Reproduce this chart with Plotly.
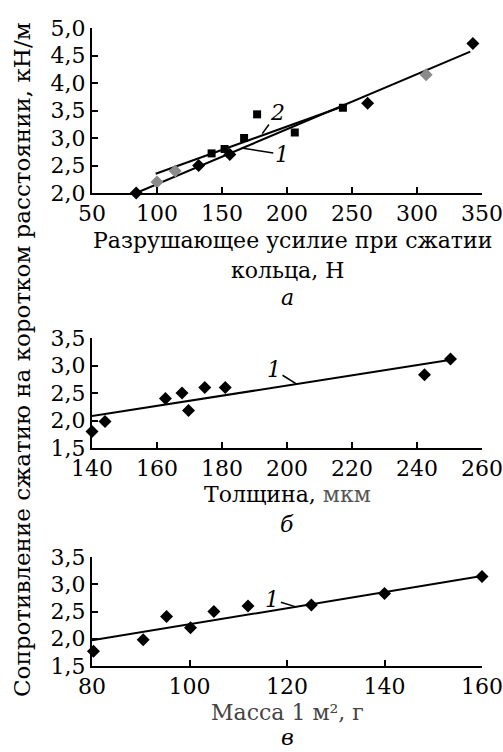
import plotly.graph_objects as go

# Panel a: breaking force of ring compression, N
a_diam_x = [84, 132, 156, 262, 343]
a_diam_y = [2.0, 2.5, 2.7, 3.63, 4.72]
a_gray_x = [100, 114, 307]
a_gray_y = [2.2, 2.4, 4.15]
a_sq_x = [142, 152, 167, 177, 206, 243]
a_sq_y = [2.72, 2.8, 3.0, 3.43, 3.1, 3.55]
a_line1_x = [84, 341]
a_line1_y = [2.0, 4.57]
a_line2_x = [99, 246]
a_line2_y = [2.35, 3.6]

# Panel б: thickness, µm
b_x = [140, 144, 162.6, 167.7, 169.7, 174.7, 181, 242.3, 250.3]
b_y = [1.8, 1.98, 2.4, 2.5, 2.18, 2.6, 2.6, 2.83, 3.12]
b_line_x = [140, 250]
b_line_y = [2.08, 3.1]

# Panel в: mass of 1 m², g
c_x = [80.3, 90.5, 95.3, 100.2, 105, 112, 125, 140, 160]
c_y = [1.77, 1.98, 2.41, 2.2, 2.5, 2.6, 2.62, 2.83, 3.14]
c_line_x = [80, 160]
c_line_y = [1.97, 3.15]

FONT = "DejaVu Serif"
W, H = 503, 752

def py(px):
    return 1 - px / H

def pxx(px):
    return px / W

fig = go.Figure()

line_style = dict(color="black", width=2)
diam = dict(symbol="diamond", size=10, color="black")
sq = dict(symbol="square", size=8, color="black")

fig.add_trace(go.Scatter(x=a_line1_x, y=a_line1_y, mode="lines", line=line_style, xaxis="x", yaxis="y"))
fig.add_trace(go.Scatter(x=a_line2_x, y=a_line2_y, mode="lines", line=line_style, xaxis="x", yaxis="y"))
fig.add_trace(go.Scatter(x=a_diam_x, y=a_diam_y, mode="markers", marker=diam, xaxis="x", yaxis="y", cliponaxis=False))
fig.add_trace(go.Scatter(x=a_gray_x, y=a_gray_y, mode="markers", marker=dict(symbol="diamond", size=10, color="#8a8a8a"), xaxis="x", yaxis="y", cliponaxis=False))
fig.add_trace(go.Scatter(x=a_sq_x, y=a_sq_y, mode="markers", marker=sq, xaxis="x", yaxis="y", cliponaxis=False))

fig.add_trace(go.Scatter(x=b_line_x, y=b_line_y, mode="lines", line=line_style, xaxis="x2", yaxis="y2"))
fig.add_trace(go.Scatter(x=b_x, y=b_y, mode="markers", marker=diam, xaxis="x2", yaxis="y2", cliponaxis=False))

fig.add_trace(go.Scatter(x=c_line_x, y=c_line_y, mode="lines", line=line_style, xaxis="x3", yaxis="y3"))
fig.add_trace(go.Scatter(x=c_x, y=c_y, mode="markers", marker=diam, xaxis="x3", yaxis="y3", cliponaxis=False))

xdom = [pxx(92), pxx(482)]
common_axis = dict(showline=True, linecolor="black", linewidth=2, ticks="inside", ticklen=6,
                   tickwidth=2, tickcolor="black", showgrid=False, zeroline=False,
                   tickfont=dict(family=FONT, size=22, color="black"), mirror=False,
                   automargin=False)

fig.update_layout(
    width=W, height=H, margin=dict(l=0, r=0, t=0, b=0, autoexpand=False),
    paper_bgcolor="white", plot_bgcolor="white", showlegend=False,
    separators=", ",
    xaxis=dict(domain=xdom, range=[50, 350], dtick=50, anchor="y", **common_axis),
    yaxis=dict(domain=[py(193), py(28)], range=[2.0, 5.0], dtick=0.5, tickformat=".1f", anchor="x", **common_axis),
    xaxis2=dict(domain=xdom, range=[140, 260], dtick=20, anchor="y2", **common_axis),
    yaxis2=dict(domain=[py(448), py(338)], range=[1.5, 3.5], dtick=0.5, tickformat=".1f", anchor="x2", **common_axis),
    xaxis3=dict(domain=xdom, range=[80, 160], dtick=20, anchor="y3", **common_axis),
    yaxis3=dict(domain=[py(666), py(557)], range=[1.5, 3.5], dtick=0.5, tickformat=".1f", anchor="x3", **common_axis),
)

def ann(text, xp, yp, color="black", size=22, **kw):
    fig.add_annotation(text=text, x=pxx(xp), y=py(yp), xref="paper", yref="paper",
                       xanchor="center", yanchor="middle",
                       showarrow=False, font=dict(family=FONT, size=size, color=color), **kw)

ann("Сопротивление сжатию на коротком расстоянии, кН/м", 22, 360, size=23, textangle=-90)
ann("Разрушающее усилие при сжатии", 292, 240)
ann("кольца, Н", 287, 270)
ann("<i>а</i>", 287, 298)
ann("Толщина, <span style='color:#555'>мкм</span>", 287, 494)
ann("<i>б</i>", 287, 524)
ann("Масса 1 м², г", 287, 712, color="#444")
ann("<i>в</i>", 287, 737)

# curve labels with leaders
def lab(text, x, y, ax, ay, xr, yr):
    fig.add_annotation(text=f"<i>{text}</i>", x=x, y=y, ax=ax, ay=ay, xref=xr, yref=yr,
                       axref=xr, ayref=yr, showarrow=True, arrowhead=0, arrowwidth=1.5,
                       arrowcolor="black", standoff=0, startstandoff=0,
                       font=dict(family=FONT, size=22, color="black"))

lab("2", 181, 3.08, 193, 3.47, "x", "y")
lab("1", 165, 2.82, 196, 2.7, "x", "y")
lab("1", 203, 2.66, 196, 2.92, "x2", "y2")
lab("1", 122, 2.58, 117, 2.72, "x3", "y3")

fig.write_html("out.html", config={"displayModeBar": False},
               post_script="document.body.style.margin='0';document.body.style.overflow='hidden';")
